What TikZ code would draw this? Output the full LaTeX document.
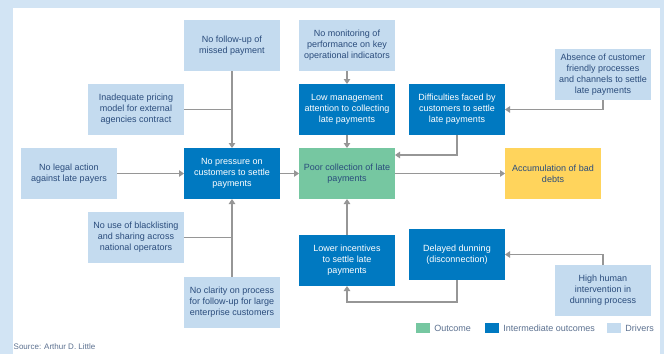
\documentclass[tikz,border=0pt]{standalone}
\usepackage{fontspec}
\setmainfont{Liberation Sans}
\usetikzlibrary{arrows.meta,positioning}
\definecolor{Frame}{HTML}{D2E4F4}
\definecolor{Driver}{HTML}{C4DBEF}
\definecolor{Inter}{HTML}{0079C1}
\definecolor{Outc}{HTML}{76C7A1}
\definecolor{Gold}{HTML}{FFD45C}
\definecolor{Navy}{HTML}{2A4C7C}
\definecolor{Wire}{HTML}{969696}
\definecolor{Note}{HTML}{5C7190}

\begin{document}
\begin{tikzpicture}[
      x=1pt, y=1pt,
      >={Triangle[length=5pt,width=6.5pt]},
      box/.style={minimum width=96pt, minimum height=51pt, inner sep=0pt,
                  outer sep=0pt, align=center, text=Navy,
                  font=\fontsize{9}{11}\selectfont},
      drv/.style={box, fill=Driver},
      mid/.style={box, fill=Inter, text=white},
      link/.style={Wire, line width=1.1pt},
      swatch/.style={minimum width=14pt, minimum height=10pt, inner sep=0pt}
    ]
      % frame
      \fill[Frame] (0,0) rectangle (664,-354);
      \fill[white] (13,-8) rectangle (660,-354);
      \useasboundingbox (0,0) rectangle (664,-354);

      \node[box, fill=Outc] (poor) at (347,-173.5) {Poor collection of late\\payments};
      \node[mid, left=19pt of poor] (push) {No pressure on\\customers to settle\\payments};
      \node[drv, left=67pt of push] (legal) {No legal action\\against late payers};
      \node[box, fill=Gold, right=110pt of poor] (debt) {Accumulation of bad\\debts};

      \node[drv, above=77pt of push] (follow) {No follow-up of\\missed payment};
      \node[drv, above left=13pt and 0pt of push] (price) {Inadequate pricing\\model for external\\agencies contract};
      \node[drv, below left=13pt and 0pt of push] (black) {No use of blacklisting\\and sharing across\\national operators};
      \node[drv, below=78pt of push] (clear) {No clarity on process\\for follow-up for large\\enterprise customers};

      \node[mid, above=13pt of poor] (mgmt) {Low management\\attention to collecting\\late payments};
      \node[drv, above=13pt of mgmt] (kpi) {No monitoring of\\performance on key\\operational indicators};
      \node[mid, right=14pt of mgmt] (hard) {Difficulties faced by\\customers to settle\\late payments};
      \node[drv, right=50pt of hard, yshift=35pt] (chan) {Absence of customer\\friendly processes\\and channels to settle\\late payments};

      \node[mid, below=36pt of poor] (incent) {Lower incentives\\to settle late\\payments};
      \node[mid, right=14pt of incent, yshift=6pt] (dun) {Delayed dunning\\(disconnection)};
      \node[drv, right=50pt of dun, yshift=-36pt] (human) {High human\\intervention in\\dunning process};

      \draw[->, link] (follow) -- (push);
      \draw[link] (price.east) -- (price.east -| push.north);
      \draw[->, link] (clear) -- (push);
      \draw[link] (black.east) -- (black.east -| push.south);
      \draw[->, link] (legal) -- (push);
      \draw[->, link] (push) -- (poor);
      \draw[->, link] (poor) -- (debt);
      \draw[->, link] (kpi) -- (mgmt);
      \draw[->, link] (mgmt) -- (poor);
      \draw[->, link] (hard.south) |- ([yshift=18.5pt]poor.east);
      \draw[->, link] (chan.south) |- (hard.east);
      \draw[->, link] (incent) -- (poor);
      \draw[->, link] (dun.south) -- ++(0,-22) -| (incent.south);
      \draw[->, link] (human.north) |- (dun.east);

      % legend
      \node[swatch, fill=Outc] (k1) at (423,-328) {};
      \node[right=4pt of k1, inner sep=0pt, text=Note, font=\fontsize{9}{11}\selectfont] (t1) {Outcome};
      \node[swatch, fill=Inter] (k2) at (492,-328) {};
      \node[right=4pt of k2, inner sep=0pt, text=Note, font=\fontsize{9}{11}\selectfont] (t2) {Intermediate outcomes};
      \node[swatch, fill=Driver] (k3) at (614,-328) {};
      \node[right=4pt of k3, inner sep=0pt, text=Note, font=\fontsize{9}{11}\selectfont] (t3) {Drivers};

      \node[anchor=west, inner sep=0pt, text=Note, font=\fontsize{8}{10}\selectfont] (src) at (13.5,-347) {Source: Arthur D. Little};
    \end{tikzpicture}
\end{document}
